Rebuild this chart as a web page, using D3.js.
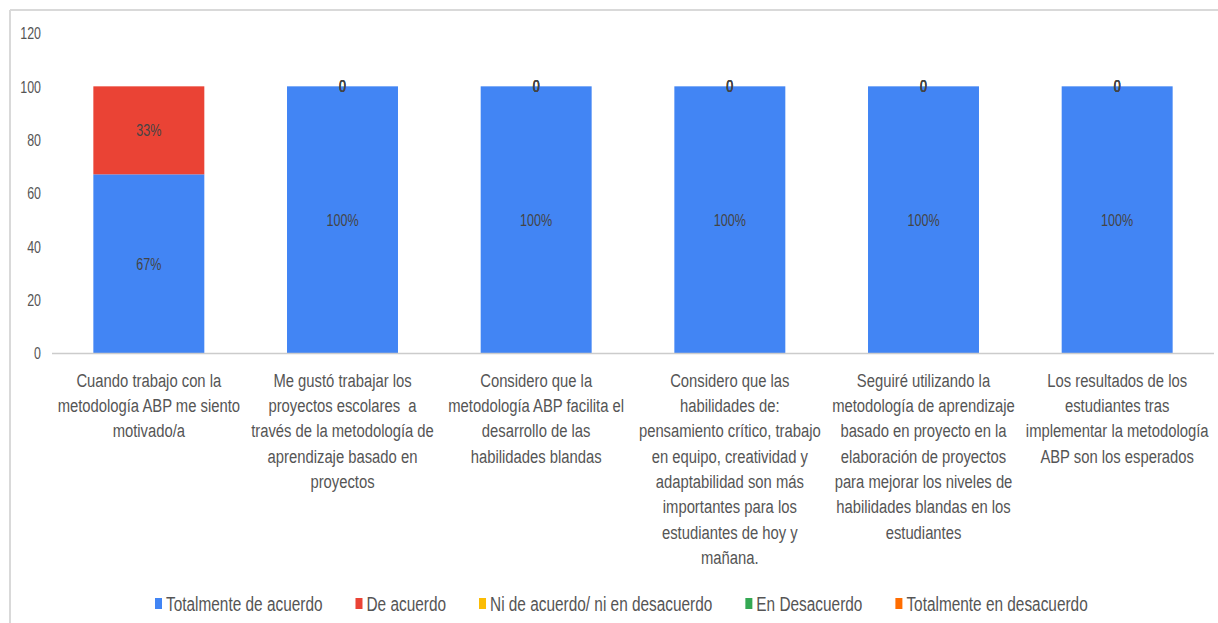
<!DOCTYPE html>
<html>
<head>
<meta charset="utf-8">
<script src="https://cdn.jsdelivr.net/npm/d3@7"></script>
<style>
  html, body { margin: 0; padding: 0; background: #fff; }
  svg { display: block; font-family: "Liberation Sans", Arial, sans-serif; }
</style>
</head>
<body>
<svg id="chart" width="1218" height="623"></svg>
<script>
// ---- data ----
var categories = [
  "Cuando trabajo con la\nmetodología ABP me siento\nmotivado/a",
  "Me gustó trabajar los\nproyectos escolares  a\ntravés de la metodología de\naprendizaje basado en\nproyectos",
  "Considero que la\nmetodología ABP facilita el\ndesarrollo de las\nhabilidades blandas",
  "Considero que las\nhabilidades de:\npensamiento crítico, trabajo\nen equipo, creatividad y\nadaptabilidad son más\nimportantes para los\nestudiantes de hoy y\nmañana.",
  "Seguiré utilizando la\nmetodología de aprendizaje\nbasado en proyecto en la\nelaboración de proyectos\npara mejorar los niveles de\nhabilidades blandas en los\nestudiantes",
  "Los resultados de los\nestudiantes tras\nimplementar la metodología\nABP son los esperados"
];
var seriesNames = ["Totalmente de acuerdo", "De acuerdo", "Ni de acuerdo/ ni en desacuerdo", "En Desacuerdo", "Totalmente en desacuerdo"];
var seriesColors = ["#4285F4", "#EA4335", "#FBBC04", "#34A853", "#FF6D01"];
var totalmenteDeAcuerdo = [67, 100, 100, 100, 100, 100];
var deAcuerdo           = [33, 0, 0, 0, 0, 0];
var niDeAcuerdo         = [null, 0, 0, 0, 0, 0];
var enDesacuerdo        = [null, 0, 0, 0, 0, 0];
var totalmenteEnDesac   = [null, 0, 0, 0, 0, 0];
var yTicks = [0, 20, 40, 60, 80, 100, 120];

////////////////////////////////////////////////////////////////////////
// build table for the stack
////////////////////////////////////////////////////////////////////////
var seriesValues = [totalmenteDeAcuerdo, deAcuerdo, niDeAcuerdo, enDesacuerdo, totalmenteEnDesac];
var rows = categories.map(function(c, i)
  {
  var r = {cat: c};
  seriesNames.forEach(function(s, j) { r[s] = seriesValues[j][i]; });
  return r;
  });

var svg = d3.select("#chart");

// outer frame (top + left edges only are visible)
svg.append("line").attr("x1", 10).attr("x2", 1218).attr("y1", 10).attr("y2", 10)
  .attr("stroke", "#d9d9d9").attr("stroke-width", 2);
svg.append("line").attr("x1", 10).attr("x2", 10).attr("y1", 10).attr("y2", 623)
  .attr("stroke", "#d9d9d9").attr("stroke-width", 2);

var plotLeft = 52, plotRight = 1214, plotTop = 33, plotBottom = 353;

var x = d3.scaleBand().domain(categories).range([plotLeft, plotRight]).paddingInner(0.427).paddingOuter(0.2135);
var y = d3.scaleLinear().domain([0, 120]).range([plotBottom, plotTop]);

var stack = d3.stack().keys(seriesNames).value(function(d, k) { return d[k] || 0; });
var stacked = stack(rows);

// bars
var layers = svg.append("g").selectAll("g")
  .data(stacked)
  .enter().append("g")
  .attr("fill", function(d, i) { return seriesColors[i]; });

layers.selectAll("rect")
  .data(function(d) { return d; })
  .enter().append("rect")
  .attr("x", function(d) { return x(d.data.cat); })
  .attr("width", x.bandwidth())
  .attr("y", function(d) { return y(d[1]); })
  .attr("height", function(d) { return y(d[0]) - y(d[1]); });

// baseline
svg.append("line").attr("x1", plotLeft).attr("x2", plotRight)
  .attr("y1", y(0) + 0.5).attr("y2", y(0) + 0.5)
  .attr("stroke", "#cccccc").attr("stroke-width", 1.5);

// y axis labels
var yAxis = d3.axisLeft(y).tickValues(yTicks).tickSize(0).tickPadding(0);
var yg = svg.append("g").attr("transform", "translate(41,0)").call(yAxis);
yg.select(".domain").remove();
yg.selectAll("text")
  .attr("fill", "#555")
  .style("font-size", "17px")
  .attr("dy", "0.35em")
  .attr("transform", function(d) { return "translate(0," + y(d) + ") scale(0.73,1) translate(0," + (-y(d)) + ")"; });

// data labels
stacked.forEach(function(layer, i)
  {
  svg.append("g").selectAll("text")
    .data(layer.filter(function(d) { return d.data[seriesNames[i]] !== null; }))
    .enter().append("text")
    .attr("transform", function(d)
      {
      return "translate(" + (x(d.data.cat) + x.bandwidth() / 2) + "," + y((d[0] + d[1]) / 2) + ") scale(0.74,1)";
      })
    .attr("text-anchor", "middle")
    .attr("dy", "0.35em")
    .attr("fill", "#444")
    .style("font-size", "17px")
    .text(function(d)
      {
      var v = d.data[seriesNames[i]];
      return v === 0 ? "0" : v + "%";
      });
  });

// x axis labels (multi-line)
var xg = svg.append("g");
categories.forEach(function(c)
  {
  var lines = c.split("\n");
  var t = xg.append("text")
    .attr("transform", "translate(" + (x(c) + x.bandwidth() / 2) + ",386.5) scale(0.78,1)")
    .attr("text-anchor", "middle")
    .attr("fill", "#555")
    .style("font-size", "19px")
    .style("white-space", "pre");
  lines.forEach(function(l, k)
    {
    t.append("tspan").attr("x", 0).attr("y", k * 25.4).text(l);
    });
  });

// legend
var legend = svg.append("g");
var lx = 155, legendScale = 0.77;
seriesNames.forEach(function(s, i)
  {
  legend.append("rect").attr("x", lx).attr("y", 598).attr("width", 7).attr("height", 11)
    .attr("fill", seriesColors[i]);
  var txt = legend.append("text")
    .attr("transform", "translate(" + (lx + 11) + ",610.5) scale(" + legendScale + ",1)")
    .attr("fill", "#555")
    .style("font-size", "20px")
    .text(s);
  lx += 11 + txt.node().getComputedTextLength() * legendScale + 33;
  });
</script>
</body>
</html>
